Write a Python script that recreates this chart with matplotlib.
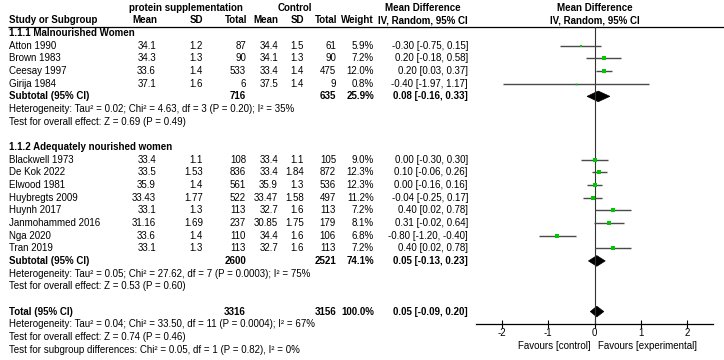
import matplotlib
matplotlib.use("Agg")
import matplotlib.pyplot as plt
from matplotlib.patches import Polygon
from matplotlib.transforms import blended_transform_factory

plt.rcParams['font.family'] = ['Liberation Sans', 'DejaVu Sans']
plt.rcParams['axes.unicode_minus'] = False

# ---------------- data ----------------
grp1_title = "1.1.1 Malnourished Women"
grp1_studies = ["Atton 1990", "Brown 1983", "Ceesay 1997", "Girija 1984"]
grp1_e_mean = [34.1, 34.3, 33.6, 37.1]
grp1_e_sd = [1.2, 1.3, 1.4, 1.6]
grp1_e_n = [87, 90, 533, 6]
grp1_c_mean = [34.4, 34.1, 33.4, 37.5]
grp1_c_sd = [1.5, 1.3, 1.4, 1.4]
grp1_c_n = [61, 90, 475, 9]
grp1_weight = [5.9, 7.2, 12.0, 0.8]
grp1_md = [-0.30, 0.20, 0.20, -0.40]
grp1_lo = [-0.75, -0.18, 0.03, -1.97]
grp1_hi = [0.15, 0.58, 0.37, 1.17]
grp1_sub = dict(e_n=716, c_n=635, weight=25.9, md=0.08, lo=-0.16, hi=0.33)
grp1_het = "Heterogeneity: Tau\u00b2 = 0.02; Chi\u00b2 = 4.63, df = 3 (P = 0.20); I\u00b2 = 35%"
grp1_test = "Test for overall effect: Z = 0.69 (P = 0.49)"

grp2_title = "1.1.2 Adequately nourished women"
grp2_studies = ["Blackwell 1973", "De Kok 2022", "Elwood 1981", "Huybregts 2009",
                "Huynh 2017", "Janmohammed 2016", "Nga 2020", "Tran 2019"]
grp2_e_mean = [33.4, 33.5, 35.9, 33.43, 33.1, 31.16, 33.6, 33.1]
grp2_e_sd = [1.1, 1.53, 1.4, 1.77, 1.3, 1.69, 1.4, 1.3]
grp2_e_n = [108, 836, 561, 522, 113, 237, 110, 113]
grp2_c_mean = [33.4, 33.4, 35.9, 33.47, 32.7, 30.85, 34.4, 32.7]
grp2_c_sd = [1.1, 1.84, 1.3, 1.58, 1.6, 1.75, 1.6, 1.6]
grp2_c_n = [105, 872, 536, 497, 113, 179, 106, 113]
grp2_weight = [9.0, 12.3, 12.3, 11.2, 7.2, 8.1, 6.8, 7.2]
grp2_md = [0.00, 0.10, 0.00, -0.04, 0.40, 0.31, -0.80, 0.40]
grp2_lo = [-0.30, -0.06, -0.16, -0.25, 0.02, -0.02, -1.20, 0.02]
grp2_hi = [0.30, 0.26, 0.16, 0.17, 0.78, 0.64, -0.40, 0.78]
grp2_sub = dict(e_n=2600, c_n=2521, weight=74.1, md=0.05, lo=-0.13, hi=0.23)
grp2_het = "Heterogeneity: Tau\u00b2 = 0.05; Chi\u00b2 = 27.62, df = 7 (P = 0.0003); I\u00b2 = 75%"
grp2_test = "Test for overall effect: Z = 0.53 (P = 0.60)"

total = dict(e_n=3316, c_n=3156, weight=100.0, md=0.05, lo=-0.09, hi=0.20)
total_het = "Heterogeneity: Tau\u00b2 = 0.04; Chi\u00b2 = 33.50, df = 11 (P = 0.0004); I\u00b2 = 67%"
total_test = "Test for overall effect: Z = 0.74 (P = 0.46)"
subgroup_test = "Test for subgroup differences: Chi\u00b2 = 0.05, df = 1 (P = 0.82), I\u00b2 = 0%"

x_ticks = [-2, -1, 0, 1, 2]
favours_left = "Favours [control]"
favours_right = "Favours [experimental]"

# ---------------- layout ----------------
W, H = 724, 360
Y0, DY = 20.4, 12.66          # pixel y of row 0 and row spacing
FS = 7.0
fig = plt.figure(figsize=(W / 100, H / 100), dpi=100)

ax_t = fig.add_axes([0, 0, 1, 1])
ax_t.set_xlim(0, W)
ax_t.set_ylim((H - Y0) / DY, -Y0 / DY)
ax_t.axis('off')

x_left = 9
x_study = 9
col_e_mean, col_e_sd, col_e_n = 156, 203, 246
col_c_mean, col_c_sd, col_c_n = 278, 304, 336
col_w, col_ci = 374, 468

def txt(x, r, s, ha='left', bold=False):
    ax_t.text(x, r, s, ha=ha, va='center', fontsize=FS,
              fontweight='bold' if bold else 'normal', color='black')

# headers
txt(186, -1, "protein supplementation", ha='center', bold=True)
txt(295, -1, "Control", ha='center', bold=True)
txt(423, -1, "Mean Difference", ha='center', bold=True)
txt(x_left, 0, "Study or Subgroup", bold=True)
txt(col_e_mean + 1, 0, "Mean", ha='right', bold=True)
txt(col_e_sd, 0, "SD", ha='right', bold=True)
txt(col_e_n + 1, 0, "Total", ha='right', bold=True)
txt(col_c_mean, 0, "Mean", ha='right', bold=True)
txt(col_c_sd, 0, "SD", ha='right', bold=True)
txt(col_c_n + 1, 0, "Total", ha='right', bold=True)
txt(col_w, 0, "Weight", ha='right', bold=True)
txt(col_ci, 0, "IV, Random, 95% CI", ha='right', bold=True)
ax_t.plot([8, W], [0.5, 0.5], color='black', lw=0.9, solid_capstyle='butt')

# forest axes
FX0, FX1 = 476, 713
f_left = FX0 / W
f_width = (FX1 - FX0) / W
row_axis = 24.0
f_bottom = 1 - (Y0 + DY * row_axis) / H
f_top = 1 - (Y0 + DY * 0.5) / H
ax_f = fig.add_axes([f_left, f_bottom, f_width, f_top - f_bottom])
ax_f.set_xlim(-2.55, 2.55)
ax_f.set_ylim(row_axis, 0.5)
ax_f.patch.set_alpha(0)
for s in ['top', 'left', 'right']:
    ax_f.spines[s].set_visible(False)
ax_f.spines['bottom'].set_linewidth(0.9)
ax_f.set_yticks([])
ax_f.set_xticks(x_ticks)
ax_f.set_xticklabels([str(t) for t in x_ticks])
ax_f.tick_params(axis='x', direction='inout', length=6, width=0.8, pad=0, labelsize=FS)
ax_f.axvline(0, color='#333333', lw=0.8)
txt(595, -1, "Mean Difference", ha='center', bold=True)
txt(595, 0, "IV, Random, 95% CI", ha='center', bold=True)

ct = blended_transform_factory(ax_f.transData, ax_t.transData)
r_fav = (346 - Y0) / DY
ax_t.text(-0.09, r_fav, favours_left, transform=ct, ha='right', va='center', fontsize=FS)
ax_t.text(0.08, r_fav, favours_right, transform=ct, ha='left', va='center', fontsize=FS)

def diamond(md, lo, hi, r):
    h = 0.42
    ax_f.add_patch(Polygon([[lo, r], [md, r - h], [hi, r], [md, r + h]],
                           closed=True, facecolor='black', edgecolor='black', lw=0.5))

def ci_str(md, lo, hi):
    return f"{md:.2f} [{lo:.2f}, {hi:.2f}]"

def group(r0, title, studies, em, esd, en, cm, csd, cn, w, md, lo, hi, sub, het, test):
    txt(x_left, r0, title, bold=True)
    for k, name in enumerate(studies):
        r = r0 + 1 + k
        txt(x_study, r, name)
        txt(col_e_mean, r, str(em[k]), ha='right')
        txt(col_e_sd, r, str(esd[k]), ha='right')
        txt(col_e_n, r, str(en[k]), ha='right')
        txt(col_c_mean, r, str(cm[k]), ha='right')
        txt(col_c_sd, r, str(csd[k]), ha='right')
        txt(col_c_n, r, str(cn[k]), ha='right')
        txt(col_w, r, f"{w[k]:.1f}%", ha='right')
        txt(col_ci, r, ci_str(md[k], lo[k], hi[k]), ha='right')
        ax_f.plot([lo[k], hi[k]], [r, r], color='#4a4a4a', lw=1.0, solid_capstyle='butt')
        side_px = 1.6 + 0.22 * w[k]
        ax_f.plot([md[k]], [r], marker='s', linestyle='none', color='#00c800',
                  markersize=side_px * 0.72, markeredgewidth=0)
    rs = r0 + 1 + len(studies)
    txt(x_left, rs, "Subtotal (95% CI)", bold=True)
    txt(col_e_n, rs, str(sub['e_n']), ha='right', bold=True)
    txt(col_c_n, rs, str(sub['c_n']), ha='right', bold=True)
    txt(col_w, rs, f"{sub['weight']:.1f}%", ha='right', bold=True)
    txt(col_ci, rs, ci_str(sub['md'], sub['lo'], sub['hi']), ha='right', bold=True)
    diamond(sub['md'], sub['lo'], sub['hi'], rs)
    txt(x_left, rs + 1, het)
    txt(x_left, rs + 2, test)

group(1, grp1_title, grp1_studies, grp1_e_mean, grp1_e_sd, grp1_e_n, grp1_c_mean,
      grp1_c_sd, grp1_c_n, grp1_weight, grp1_md, grp1_lo, grp1_hi, grp1_sub, grp1_het, grp1_test)
group(10, grp2_title, grp2_studies, grp2_e_mean, grp2_e_sd, grp2_e_n, grp2_c_mean,
      grp2_c_sd, grp2_c_n, grp2_weight, grp2_md, grp2_lo, grp2_hi, grp2_sub, grp2_het, grp2_test)

rt = 23
txt(x_left, rt, "Total (95% CI)", bold=True)
txt(col_e_n, rt, str(total['e_n']), ha='right', bold=True)
txt(col_c_n, rt, str(total['c_n']), ha='right', bold=True)
txt(col_w, rt, f"{total['weight']:.1f}%", ha='right', bold=True)
txt(col_ci, rt, ci_str(total['md'], total['lo'], total['hi']), ha='right', bold=True)
diamond(total['md'], total['lo'], total['hi'], rt)
txt(x_left, rt + 1, total_het)
txt(x_left, rt + 2, total_test)
txt(x_left, rt + 3, subgroup_test)

fig.savefig("out.png", dpi=100, facecolor='white')
